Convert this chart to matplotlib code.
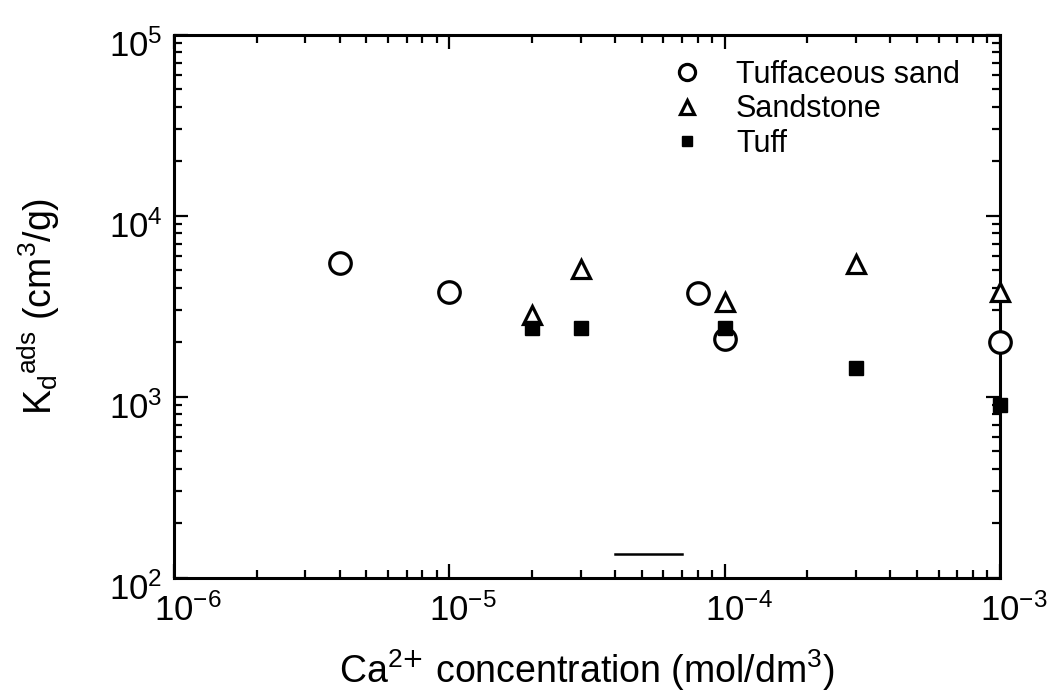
import matplotlib.pyplot as plt
from matplotlib.transforms import ScaledTranslation

# Tuffaceous sand (open circles)
ts_x = [4e-6, 1e-5, 8e-5, 1e-4, 1e-3]
ts_y = [5500, 3800, 3750, 2100, 2000]

# Sandstone (open triangles)
ss_x = [2e-5, 3e-5, 1e-4, 3e-4, 1e-3]
ss_y = [2850, 5100, 3350, 5450, 3800]

# Tuff (filled squares)
tf_x = [2e-5, 3e-5, 1e-4, 3e-4, 1e-3]
tf_y = [2400, 2400, 2400, 1450, 900]

# short stray segment near the bottom axis
seg_x = [4e-5, 7e-5]
seg_y = [135, 135]

plt.rcParams["font.family"] = ["Liberation Sans", "DejaVu Sans"]
plt.rcParams["mathtext.default"] = "regular"
plt.rcParams["axes.unicode_minus"] = False

fig = plt.figure(figsize=(10.47, 6.97), dpi=100)
ax = fig.add_axes([0.166, 0.171, 0.789, 0.779])

ax.plot(ts_x, ts_y, "o", ms=15.5, mfc="white", mec="black", mew=2.3,
        ls="none", label="Tuffaceous sand", zorder=3, clip_on=False)
ax.plot(ss_x, ss_y, "^", ms=12.5, mfc="white", mec="black", mew=2.3,
        ls="none", label="Sandstone", zorder=4, clip_on=False)
ax.plot(tf_x, tf_y, "s", ms=10.5, mfc="black", mec="black",
        ls="none", label="Tuff", zorder=5, clip_on=False)
ax.plot(seg_x, seg_y, "-", color="black", lw=1.8)

ax.set_xscale("log")
ax.set_yscale("log")
ax.set_xlim(1e-6, 1e-3)
ax.set_ylim(1e2, 1e5)

for s in ax.spines.values():
	s.set_linewidth(2.2)

ax.tick_params(which="both", direction="in", top=True, right=True,
               labelsize=25, width=1.6)
ax.tick_params(which="major", length=10)
ax.tick_params(axis="x", which="major", pad=11)
ax.tick_params(axis="y", which="major", pad=8)
ax.tick_params(which="minor", length=6)

fig.canvas.draw()
# base "10" sits on the tick, exponent hangs to the right / above
dx = ScaledTranslation(14 / 100, 0, fig.dpi_scale_trans)
dy = ScaledTranslation(0, -8 / 100, fig.dpi_scale_trans)
for lab in ax.get_xticklabels():
	lab.set_transform(lab.get_transform() + dx)
for lab in ax.get_yticklabels():
	lab.set_transform(lab.get_transform() + dy)

ax.set_xlabel(r"Ca$^{2\text{+}}$ concentration (mol/dm$^3$)", fontsize=27, labelpad=14)
ax.set_ylabel(r"K$_d$$^{ads}$ (cm$^3$/g)", fontsize=27, labelpad=34)

ax.legend(loc="upper right", frameon=False, fontsize=22, markerscale=0.75,
          handletextpad=0.6, labelspacing=0.15, borderaxespad=0.1,
          bbox_to_anchor=(0.97, 0.982))

plt.savefig("out.png", dpi=100)
